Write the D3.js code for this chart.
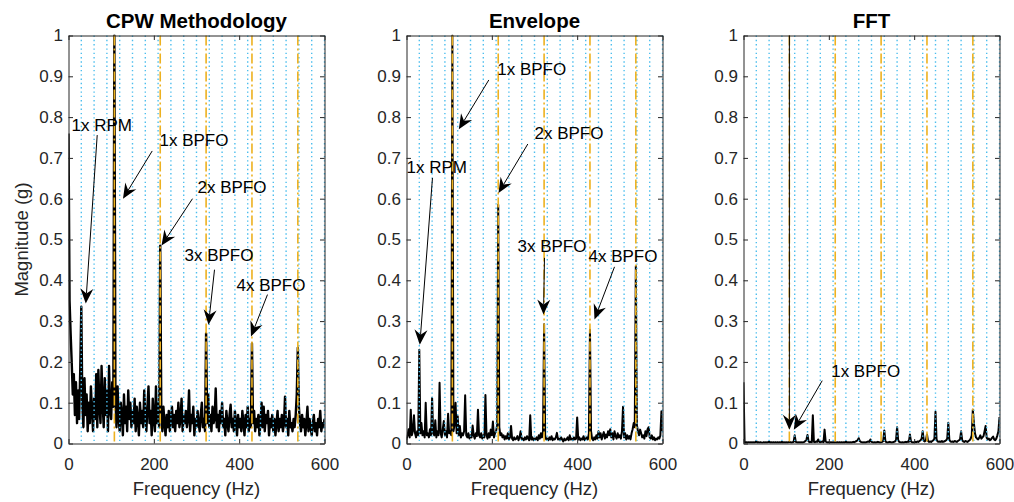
<!DOCTYPE html>
<html>
<head>
<meta charset="utf-8">
<script src="https://cdn.jsdelivr.net/npm/d3@7"></script>
<style>
  html, body { margin: 0; padding: 0; background: #fff; }
  svg { display: block; font-family: "Liberation Sans", Arial, Helvetica, sans-serif; }
</style>
</head>
<body>
<svg id="chart" width="1014" height="502"></svg>
<script>
// ---- spectra: magnitude (g) sampled every freqStep Hz from 0 to 600 Hz ----
const freqStep = 2.5;

const cpwMag = [
  0.76, 0.35, 0.27, 0.20, 0.12, 0.17, 0.07, 0.15, 0.05, 0.13,
  0.06, 0.18, 0.335, 0.09, 0.04, 0.16, 0.07, 0.12, 0.03, 0.10,
  0.05, 0.14, 0.08, 0.03, 0.11, 0.06, 0.17, 0.04, 0.18, 0.09,
  0.05, 0.19, 0.10, 0.04, 0.16, 0.07, 0.13, 0.03, 0.19, 0.08,
  0.06, 0.15, 0.09, 1.00, 0.11, 0.04, 0.14, 0.06, 0.03, 0.10,
  0.07, 0.02, 0.12, 0.05, 0.09, 0.03, 0.13, 0.06, 0.10, 0.04,
  0.08, 0.05, 0.11, 0.03, 0.09, 0.06, 0.02, 0.10, 0.05, 0.08,
  0.04, 0.13, 0.07, 0.03, 0.09, 0.14, 0.05, 0.08, 0.02, 0.11,
  0.06, 0.03, 0.14, 0.05, 0.10, 0.04, 0.485, 0.08, 0.03, 0.09,
  0.05, 0.02, 0.07, 0.04, 0.08, 0.03, 0.06, 0.09, 0.04, 0.07,
  0.03, 0.08, 0.05, 0.10, 0.04, 0.06, 0.11, 0.03, 0.07, 0.05,
  0.08, 0.04, 0.06, 0.13, 0.03, 0.07, 0.05, 0.09, 0.02, 0.06,
  0.04, 0.08, 0.05, 0.03, 0.07, 0.10, 0.04, 0.06, 0.03, 0.27,
  0.05, 0.12, 0.04, 0.07, 0.03, 0.09, 0.05, 0.06, 0.135, 0.04,
  0.07, 0.03, 0.08, 0.05, 0.10, 0.04, 0.06, 0.02, 0.08, 0.05,
  0.03, 0.07, 0.095, 0.04, 0.06, 0.03, 0.08, 0.05, 0.02, 0.07,
  0.04, 0.06, 0.03, 0.08, 0.05, 0.02, 0.07, 0.04, 0.09, 0.03,
  0.06, 0.04, 0.245, 0.05, 0.08, 0.03, 0.06, 0.04, 0.07, 0.02,
  0.05, 0.10, 0.04, 0.09, 0.03, 0.07, 0.05, 0.08, 0.02, 0.06,
  0.04, 0.07, 0.03, 0.06, 0.02, 0.05, 0.08, 0.03, 0.06, 0.04,
  0.07, 0.03, 0.05, 0.115, 0.04, 0.06, 0.02, 0.08, 0.04, 0.05,
  0.03, 0.06, 0.04, 0.07, 0.12, 0.235, 0.09, 0.05, 0.03, 0.07,
  0.04, 0.06, 0.02, 0.05, 0.09, 0.03, 0.06, 0.04, 0.02, 0.05,
  0.07, 0.03, 0.05, 0.02, 0.06, 0.04, 0.08, 0.03, 0.05, 0.04,
  0.06
];

const envMag = [
  0.010, 0.020, 0.035, 0.015, 0.083, 0.020, 0.030, 0.069, 0.025, 0.015,
  0.030, 0.020, 0.230, 0.025, 0.050, 0.020, 0.030, 0.015, 0.100, 0.020,
  0.025, 0.015, 0.035, 0.020, 0.112, 0.025, 0.020, 0.057, 0.015, 0.030,
  0.020, 0.149, 0.025, 0.015, 0.035, 0.055, 0.020, 0.030, 0.015, 0.073,
  0.025, 0.030, 0.020, 1.000, 0.030, 0.045, 0.100, 0.025, 0.067, 0.020,
  0.043, 0.015, 0.025, 0.020, 0.030, 0.118, 0.020, 0.015, 0.025, 0.012,
  0.020, 0.015, 0.044, 0.020, 0.012, 0.025, 0.018, 0.083, 0.020, 0.015,
  0.025, 0.012, 0.020, 0.015, 0.119, 0.020, 0.012, 0.025, 0.015, 0.034,
  0.020, 0.054, 0.015, 0.025, 0.030, 0.045, 0.585, 0.040, 0.020, 0.025,
  0.015, 0.020, 0.010, 0.018, 0.012, 0.025, 0.010, 0.015, 0.043, 0.012,
  0.008, 0.015, 0.010, 0.012, 0.018, 0.008, 0.015, 0.030, 0.010, 0.012,
  0.008, 0.015, 0.010, 0.018, 0.012, 0.008, 0.069, 0.010, 0.015, 0.008,
  0.012, 0.010, 0.015, 0.008, 0.020, 0.012, 0.025, 0.015, 0.030, 0.292,
  0.020, 0.010, 0.012, 0.008, 0.015, 0.010, 0.018, 0.008, 0.012, 0.010,
  0.015, 0.026, 0.010, 0.012, 0.008, 0.015, 0.010, 0.005, 0.012, 0.008,
  0.010, 0.015, 0.008, 0.020, 0.010, 0.012, 0.008, 0.015, 0.010, 0.012,
  0.064, 0.010, 0.015, 0.008, 0.012, 0.010, 0.018, 0.008, 0.012, 0.015,
  0.010, 0.025, 0.279, 0.030, 0.012, 0.008, 0.015, 0.010, 0.020, 0.012,
  0.030, 0.015, 0.025, 0.010, 0.020, 0.028, 0.012, 0.022, 0.015, 0.030,
  0.020, 0.035, 0.015, 0.025, 0.010, 0.030, 0.018, 0.012, 0.025, 0.015,
  0.020, 0.012, 0.030, 0.090, 0.015, 0.025, 0.010, 0.020, 0.012, 0.018,
  0.010, 0.025, 0.035, 0.050, 0.040, 0.435, 0.045, 0.030, 0.020, 0.034,
  0.025, 0.015, 0.020, 0.012, 0.030, 0.018, 0.035, 0.040, 0.015, 0.012,
  0.020, 0.010, 0.015, 0.008, 0.012, 0.010, 0.015, 0.012, 0.020, 0.079,
  0.030
];

const fftMag = [
  0.150, 0.004, 0.002, 0.003, 0.002, 0.003, 0.002, 0.003, 0.002, 0.003,
  0.002, 0.003, 0.006, 0.002, 0.003, 0.002, 0.003, 0.002, 0.002, 0.003,
  0.002, 0.003, 0.002, 0.003, 0.005, 0.002, 0.003, 0.002, 0.003, 0.002,
  0.003, 0.002, 0.003, 0.002, 0.003, 0.002, 0.004, 0.002, 0.003, 0.002,
  0.003, 0.002, 0.003, 0.004, 0.003, 0.002, 0.003, 0.004, 0.020, 0.004,
  0.003, 0.002, 0.003, 0.002, 0.003, 0.002, 0.003, 0.004, 0.006, 0.009,
  0.021, 0.005, 0.003, 0.004, 0.003, 0.069, 0.004, 0.003, 0.005, 0.004,
  0.010, 0.004, 0.003, 0.004, 0.005, 0.003, 0.034, 0.005, 0.003, 0.002,
  0.003, 0.002, 0.003, 0.002, 0.003, 0.002, 0.003, 0.002, 0.003, 0.002,
  0.003, 0.002, 0.003, 0.002, 0.003, 0.002, 0.005, 0.002, 0.003, 0.002,
  0.003, 0.002, 0.003, 0.004, 0.003, 0.005, 0.006, 0.008, 0.013, 0.006,
  0.004, 0.003, 0.002, 0.003, 0.002, 0.003, 0.004, 0.005, 0.004, 0.010,
  0.004, 0.003, 0.002, 0.003, 0.002, 0.003, 0.004, 0.003, 0.002, 0.003,
  0.004, 0.006, 0.032, 0.006, 0.003, 0.002, 0.003, 0.004, 0.003, 0.002,
  0.003, 0.004, 0.005, 0.008, 0.040, 0.008, 0.004, 0.003, 0.002, 0.003,
  0.002, 0.003, 0.004, 0.003, 0.005, 0.004, 0.022, 0.005, 0.003, 0.002,
  0.003, 0.004, 0.003, 0.005, 0.004, 0.006, 0.008, 0.012, 0.030, 0.007,
  0.005, 0.008, 0.022, 0.006, 0.004, 0.005, 0.004, 0.006, 0.008, 0.012,
  0.078, 0.010, 0.005, 0.004, 0.005, 0.004, 0.006, 0.004, 0.005, 0.006,
  0.008, 0.012, 0.051, 0.009, 0.005, 0.004, 0.005, 0.004, 0.006, 0.005,
  0.004, 0.006, 0.008, 0.010, 0.030, 0.008, 0.005, 0.004, 0.006, 0.005,
  0.004, 0.006, 0.008, 0.012, 0.020, 0.083, 0.050, 0.025, 0.015, 0.012,
  0.010, 0.014, 0.020, 0.012, 0.015, 0.018, 0.030, 0.043, 0.014, 0.010,
  0.012, 0.008, 0.010, 0.014, 0.017, 0.010, 0.008, 0.012, 0.020, 0.030,
  0.065
];

// shaft-speed harmonics (Hz) and outer-race defect harmonics (Hz)
const rpmHarmonics = [30, 60, 90, 120, 150, 180, 210, 240, 270, 300,
                      330, 360, 390, 420, 450, 480, 510, 540, 570, 600];
const bpfoHarmonics = [107.5, 215, 322.5, 430, 537.5];

const xTicks = [0, 200, 400, 600];
const yTicks = [0, 0.1, 0.2, 0.3, 0.4, 0.5, 0.6, 0.7, 0.8, 0.9, 1];
const titles = ["CPW Methodology", "Envelope", "FFT"];
const xLabel = "Frequency (Hz)";
const yLabel = "Magnitude (g)";

// callouts: label anchor (Hz, g) and arrows [fromHz, fromG, toHz, toG]
const cpwNotes = [
  { text: "1x RPM",  at: [7.0, 0.766],   arrows: [[67.3, 0.756, 40.5, 0.343]] },
  { text: "1x BPFO", at: [213.3, 0.730], arrows: [[196.2, 0.717, 127.7, 0.600]] },
  { text: "2x BPFO", at: [302.3, 0.614], arrows: [[290.6, 0.600, 218.0, 0.485]] },
  { text: "3x BPFO", at: [271.9, 0.448], arrows: [[342.2, 0.426, 328.1, 0.291]] },
  { text: "4x BPFO", at: [393.8, 0.375], arrows: [[466.4, 0.365, 427.7, 0.262]] }
];
const envNotes = [
  { text: "1x BPFO", at: [212.6, 0.903], arrows: [[192.9, 0.891, 122.6, 0.770]] },
  { text: "2x BPFO", at: [300.0, 0.747], arrows: [[284.3, 0.734, 215.6, 0.614]] },
  { text: "1x RPM",  at: [0.0, 0.663],   arrows: [[60.9, 0.651, 31.2, 0.242]] },
  { text: "3x BPFO", at: [260.2, 0.470], arrows: [[323.4, 0.455, 321.1, 0.316]] },
  { text: "4x BPFO", at: [426.6, 0.446], arrows: [[487.5, 0.433, 440.6, 0.304]] }
];
const fftNotes = [
  { text: "1x BPFO", at: [205.5, 0.162],
    arrows: [[184.5, 0.154, 117.9, 0.034], [107.5, 1.0, 107.5, 0.034]] }
];

const panels = [
  { title: titles[0], mag: cpwMag, notes: cpwNotes, showYLabel: true,  traceWidth: 2.4 },
  { title: titles[1], mag: envMag, notes: envNotes, showYLabel: false, traceWidth: 2 },
  { title: titles[2], mag: fftMag, notes: fftNotes, showYLabel: false, traceWidth: 2 }
];

// ---- layout ----
const panelLefts = [68.5, 406.5, 743.5];
const plotTop = 35.5, plotW = 256, plotH = 408;
const axisColor = "#262626";
const gridBlue = "#4DBEEE";
const bpfoOrange = "#EDB120";

const svg = d3.select("#chart");

function drawArrow(g, x0, y0, x1, y1) {
  const dx = x1 - x0, dy = y1 - y0, len = Math.hypot(dx, dy);
  const ux = dx / len, uy = dy / len, px = -uy, py = ux;
  const L = 15, half = 6.5, notch = 5;
  const bx = x1 - ux * L, by = y1 - uy * L;
  const nx = x1 - ux * (L - notch), ny = y1 - uy * (L - notch);
  g.append("line")
    .attr("x1", x0).attr("y1", y0).attr("x2", nx).attr("y2", ny)
    .attr("stroke", "#000").attr("stroke-width", 1);
  g.append("path")
    .attr("d", `M${x1},${y1}L${bx + px * half},${by + py * half}L${nx},${ny}L${bx - px * half},${by - py * half}Z`)
    .attr("fill", "#000");
}

panels.forEach((p, i) => {
  const left = panelLefts[i];
  const x = d3.scaleLinear().domain([0, 600]).range([left, left + plotW]);
  const y = d3.scaleLinear().domain([0, 1]).range([plotTop + plotH, plotTop]);
  const g = svg.append("g");

  const clipId = "clip" + i;
  svg.append("clipPath").attr("id", clipId)
    .append("rect").attr("x", left).attr("y", plotTop - 1).attr("width", plotW).attr("height", plotH + 1);

  // spectrum trace
  const pts = p.mag.map((v, k) => [k * freqStep, v]);
  g.append("path")
    .datum(pts)
    .attr("clip-path", `url(#${clipId})`)
    .attr("d", d3.line().x(d => x(d[0])).y(d => y(d[1])))
    .attr("fill", "none")
    .attr("stroke", "#000")
    .attr("stroke-width", p.traceWidth)
    .attr("stroke-linejoin", "round");

  // shaft-speed harmonic markers
  g.selectAll(".rpm").data(rpmHarmonics).enter().append("line")
    .attr("x1", d => x(d)).attr("x2", d => x(d))
    .attr("y1", y(1)).attr("y2", y(0))
    .attr("stroke", gridBlue).attr("stroke-width", 1.4)
    .attr("stroke-dasharray", "1.4 2.9");

  // BPFO harmonic markers
  g.selectAll(".bpfo").data(bpfoHarmonics).enter().append("line")
    .attr("x1", d => x(d)).attr("x2", d => x(d))
    .attr("y1", y(1)).attr("y2", y(0))
    .attr("stroke", bpfoOrange).attr("stroke-width", 1.6)
    .attr("stroke-dasharray", "10 3 2 3");

  // axes box with inward ticks
  const fmtY = v => (v === 0 ? "0" : v === 1 ? "1" : v.toFixed(1));
  const tick = 4.5;
  const bottom = g.append("g").attr("transform", `translate(0,${plotTop + plotH})`)
    .call(d3.axisBottom(x).tickValues(xTicks).tickSizeInner(-tick).tickSizeOuter(0).tickPadding(14));
  const top = g.append("g").attr("transform", `translate(0,${plotTop})`)
    .call(d3.axisTop(x).tickValues(xTicks).tickSizeInner(-tick).tickSizeOuter(0).tickFormat(""));
  const leftAx = g.append("g").attr("transform", `translate(${left},0)`)
    .call(d3.axisLeft(y).tickValues(yTicks).tickSizeInner(-tick).tickSizeOuter(0).tickPadding(5.5).tickFormat(fmtY));
  const rightAx = g.append("g").attr("transform", `translate(${left + plotW},0)`)
    .call(d3.axisRight(y).tickValues(yTicks).tickSizeInner(-tick).tickSizeOuter(0).tickFormat(""));
  [bottom, top, leftAx, rightAx].forEach(a => {
    a.attr("color", axisColor).attr("font-family", null).attr("font-size", null);
    a.selectAll("path, line").attr("stroke-width", 1);
    a.selectAll("text").attr("font-size", 17).attr("fill", axisColor);
  });

  // title
  g.append("text")
    .attr("x", left + plotW / 2).attr("y", 27.5)
    .attr("text-anchor", "middle")
    .attr("font-size", 20.5).attr("font-weight", "bold").attr("fill", "#000")
    .text(p.title);

  // x label
  g.append("text")
    .attr("x", left + plotW / 2).attr("y", 495)
    .attr("text-anchor", "middle")
    .attr("font-size", 18.5).attr("fill", axisColor)
    .text(xLabel);

  if (p.showYLabel) {
    g.append("text")
      .attr("transform", `translate(28,${plotTop + plotH / 2}) rotate(-90)`)
      .attr("text-anchor", "middle")
      .attr("font-size", 18.5).attr("fill", axisColor)
      .text(yLabel);
  }

  // callouts
  const ann = g.append("g");
  p.notes.forEach(n => {
    n.arrows.forEach(a => drawArrow(ann, x(a[0]), y(a[1]), x(a[2]), y(a[3])));
    ann.append("text")
      .attr("x", x(n.at[0])).attr("y", y(n.at[1]))
      .attr("font-size", 17).attr("fill", "#000")
      .text(n.text);
  });
});
</script>
</body>
</html>
